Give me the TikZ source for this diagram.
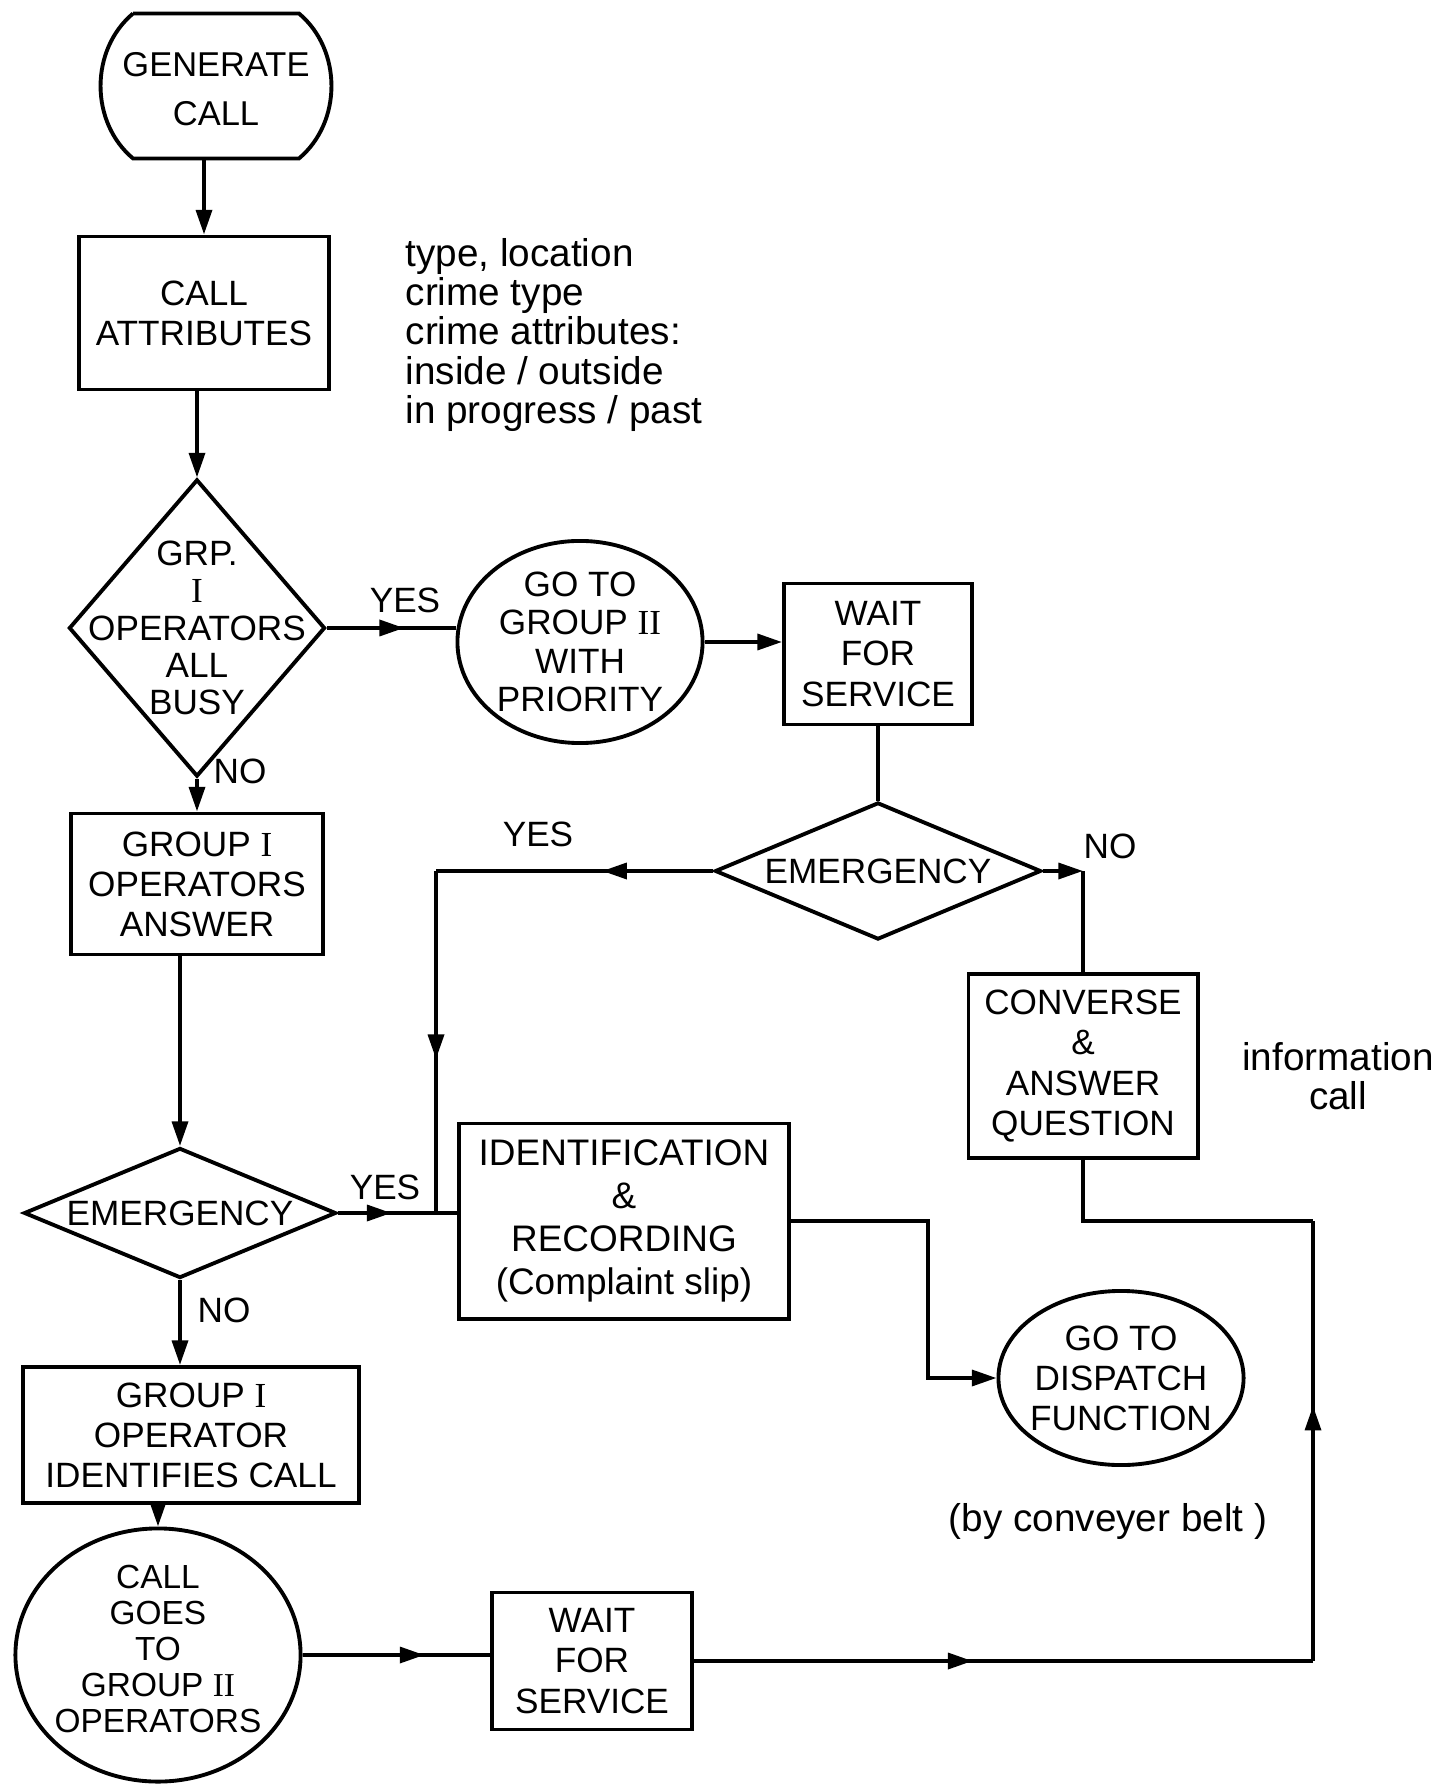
\documentclass[tikz,border=0pt]{standalone}
\usepackage{fontspec}
\setmainfont{Liberation Sans}
\newfontfamily\romfont{Liberation Serif}
\usepackage{tikz}
\usetikzlibrary{shapes.geometric,arrows.meta,decorations.markings}

\newcommand{\gI}{{\romfont I}}
\newcommand{\gII}{{\romfont II}}

\begin{document}
\begin{tikzpicture}[x=0.01cm,y=-0.01cm,line width=1.1pt,
  >={Triangle[length=7pt,width=4.5pt]},
  font=\fontsize{10}{11.4}\selectfont,
  box/.style={draw,rectangle,align=center,inner sep=0pt},
  decision/.style={draw,diamond,align=center,inner sep=0pt},
  oval/.style={draw,ellipse,inner sep=0pt},
  note/.style={align=left,font=\fontsize{11}{11.1}\selectfont},
  midarrow/.style={postaction={decorate},decoration={markings,mark=at position #1 with {\arrow{>}}}}]
\useasboundingbox (0,0) rectangle (1442,1786);

\node[rectangle,inner sep=0pt,minimum width=1.62cm,minimum height=1.41cm,label={[align=center,yshift=-0.03cm,font=\fontsize{9.8}{14}\selectfont]center:GENERATE\\CALL}] (gen) at (216,86) {};
\draw (gen.north west) -- (gen.north east) to[bend left=50] (gen.south east) -- (gen.south west) to[bend left=50] (gen.north west);
\node[box,minimum width=2.49cm,minimum height=1.53cm] (attr) at (204,313) {CALL\\ATTRIBUTES};
\node[note,anchor=west] (notes) at (392,335) {type, location\\crime type\\crime attributes:\\inside / outside\\in progress / past};
\node[decision,minimum width=2.56cm,minimum height=2.97cm,label={[align=center,font=\fontsize{10}{10.6}\selectfont]center:GRP.\\\gI\\OPERATORS\\ALL\\BUSY}] (busy) at (197,628) {};
\node[oval,minimum width=2.45cm,minimum height=2.02cm,label={[align=center,font=\fontsize{10}{10.9}\selectfont]center:GO TO\\GROUP \gII\\WITH\\PRIORITY}] (prio) at (580,642) {};
\node[box,minimum width=1.88cm,minimum height=1.41cm] (wait1) at (878,654) {WAIT\\FOR\\SERVICE};
\node[decision,shape aspect=2.4,minimum width=3.26cm,minimum height=1.37cm] (emerg2) at (878,871) {EMERGENCY};
\node[box,minimum width=2.29cm,minimum height=1.84cm] (conv) at (1083,1066) {CONVERSE\\\&\\ANSWER\\QUESTION};
\node[note,align=center] (info) at (1338,1076) {information\\call};
\node[box,minimum width=2.52cm,minimum height=1.41cm] (answer) at (197,884) {GROUP \gI\\OPERATORS\\ANSWER};
\node[decision,shape aspect=2.4,minimum width=3.12cm,minimum height=1.30cm] (emerg3) at (180,1213) {EMERGENCY};
\node[box,minimum width=3.30cm,minimum height=1.95cm,font=\fontsize{10.5}{12.2}\selectfont] (ident) at (624,1221) {IDENTIFICATION\\\&\\RECORDING\\(Complaint slip)};
\node[oval,minimum width=2.45cm,minimum height=1.74cm,label={[align=center,font=\fontsize{10}{11.4}\selectfont]center:GO TO\\DISPATCH\\FUNCTION}] (dispatch) at (1121,1378) {};
\node[note] (belt) at (1108,1521) {(by conveyer belt )};
\node[box,minimum width=3.36cm,minimum height=1.36cm] (identify) at (191,1435) {GROUP \gI\\OPERATOR\\IDENTIFIES CALL};
\node[oval,minimum width=2.85cm,minimum height=2.53cm,label={[align=center,yshift=0.06cm,font=\fontsize{9.5}{10.2}\selectfont]center:CALL\\GOES\\TO\\GROUP \gII\\OPERATORS}] (goes) at (158,1655) {};
\node[box,minimum width=2.00cm,minimum height=1.37cm] (wait2) at (592,1661) {WAIT\\FOR\\SERVICE};

\node (yes1) at (405,600) {YES};
\node (no1) at (240,771) {NO};
\node (yes2) at (538,834) {YES};
\node (no2) at (1110,846) {NO};
\node (yes3) at (385,1187) {YES};
\node (no3) at (224,1310) {NO};

\coordinate (yescorner) at (436,871);
\coordinate (join) at (yescorner |- emerg3.east);
\coordinate (nocorner) at (emerg2.east -| conv.north);
\coordinate (idcorner) at (928,1221);
\coordinate (brcorner) at (1313,1661);
\coordinate (trcorner) at (1313,1221);

\draw[->] (gen.south -| attr.north) -- (attr.north);
\draw[->] (attr.south -| busy.north) -- (busy.north);
\draw[midarrow=0.6] (busy.east) -- (busy.east -| prio.west);
\draw[->] (prio.east) -- (prio.east -| wait1.west);
\draw (wait1.south) -- (emerg2.north);
\draw[midarrow=0.4] (emerg2.west) -- (yescorner);
\draw[midarrow=0.55] (yescorner) -- (join);
\draw[->] (emerg2.east) -- (nocorner);
\draw (nocorner) -- (conv.north);
\draw[->] (busy.south) -- (busy.south |- answer.north);
\draw[->] (answer.south -| emerg3.north) -- (emerg3.north);
\draw[midarrow=0.45] (emerg3.east) -- (emerg3.east -| ident.west);
\draw[->] (ident.east) -- (idcorner) |- (dispatch.west);
\draw[->] (emerg3.south) -- (emerg3.south |- identify.north);
\draw[->] (identify.south -| goes.north) -- (goes.north);
\draw[midarrow=0.65] (goes.east) -- (goes.east -| wait2.west);
\draw[midarrow=0.45] (wait2.east) -- (brcorner);
\draw[midarrow=0.58] (brcorner) -- (trcorner);
\draw (trcorner) -| (conv.south);
\end{tikzpicture}
\end{document}
